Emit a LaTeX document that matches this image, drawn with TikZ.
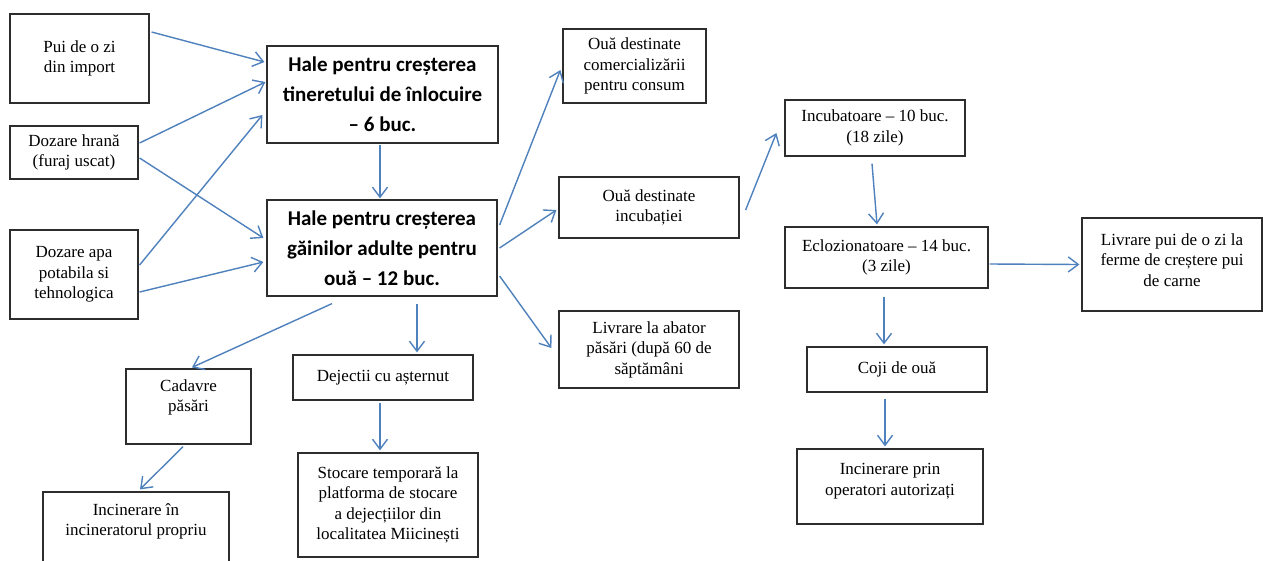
\documentclass[tikz,border=0pt]{standalone}
\usepackage{fontspec}
\setmainfont{Liberation Serif}
\newfontfamily\calibri{Carlito}
\usepackage{tikz}
\usetikzlibrary{arrows.meta, calc}
\definecolor{arrblue}{RGB}{79,129,189}
\definecolor{boxgray}{RGB}{45,45,45}
\newcommand{\lift}[1]{\rule[-#1]{0pt}{#1}}

\begin{document}
\begin{tikzpicture}[x=1pt,y=1pt]
	\tikzstyle{box}=[draw=boxgray,line width=1.2pt,fill=white,align=center,inner sep=0pt,font=\fontsize{17}{20.5}\selectfont]
	\tikzstyle{bigbox}=[box,font=\calibri\bfseries\fontsize{21}{30}\selectfont]
	\tikzstyle{arr}=[draw=arrblue,line width=1.4pt,-{Straight Barb[length=10pt,width=15pt]}]
	\fill[white] (0,0) rectangle (1263,-560);
	\useasboundingbox (0,0) rectangle (1263,-560);
	% inputs
	\node[box,minimum width=139,minimum height=89] (pui) at (79.5,-58.5) {Pui de o zi\\din import};
	\node[box,minimum width=128,minimum height=53] (hrana) at (74,-152.5) {Dozare hrană\\(furaj uscat)};
	\node[box,minimum width=128,minimum height=89] (apa) at (74,-274.5) {Dozare apa\\potabila si\\tehnologica};
	% halls
	\node[bigbox,minimum width=231,minimum height=97] (hale1) at (382.5,-94.5) {Hale pentru creșterea\\tineretului de înlocuire\\– 6 buc.};
	\node[bigbox,minimum width=230,minimum height=96] (hale2) at (382,-248) {Hale pentru creșterea\\găinilor adulte pentru\\ouă – 12 buc.};
	% products
	\node[box,minimum width=143,minimum height=74] (consum) at (634.5,-66) {Ouă destinate\\comercializării\\pentru consum};
	\node[box,minimum width=180,minimum height=61] (incub) at (649,-207.5) {Ouă destinate\\incubației};
	\node[box,minimum width=180,minimum height=77] (abator) at (649,-349.5) {Livrare la abator\\păsări (după 60 de\\săptămâni};
	\node[box,minimum width=180,minimum height=56] (incubatoare) at (875,-128) {Incubatoare – 10 buc.\\(18 zile)};
	\node[box,minimum width=203,minimum height=61] (ecloz) at (886.5,-257.5) {Eclozionatoare – 14 buc.\\(3 zile)};
	\node[box,minimum width=180,minimum height=93] (livpui) at (1172,-264.5) {Livrare pui de o zi la\\ferme de creștere pui\\de carne\lift{9pt}};
	\node[box,minimum width=180,minimum height=45] (coji) at (897,-369.5) {Coji de ouă};
	\node[box,minimum width=186,minimum height=75] (incprin) at (890,-486.5) {Incinerare prin\\operatori autorizați\lift{14pt}};
	% waste
	\node[box,minimum width=125,minimum height=75] (cadavre) at (188.5,-406.5) {Cadavre\\păsări\lift{22pt}};
	\node[box,minimum width=180,minimum height=45] (dejectii) at (383,-377.5) {Dejectii cu așternut};
	\node[box,minimum width=186,minimum height=83] (incprop) at (136,-533.5) {Incinerare în\\incineratorul propriu\lift{28pt}};
	\node[box,minimum width=180,minimum height=104] (stocare) at (388,-505) {Stocare temporară la\\platforma de stocare\\a dejecțiilor din\\localitatea Miicinești};
	% connectors
	\draw[arr] ($(pui.east)+(2,26.5)$) -- ($(hale1.west)+(-2,32.5)$);
	\draw[arr] ($(hrana.east)+(1,9.5)$) -- ($(hale1.west)+(-1,12.5)$);
	\draw[arr] ($(hrana.east)+(1,-5.5)$) -- ($(hale2.west)+(-3,10)$);
	\draw[arr] ($(apa.east)+(1,9.5)$) -- ($(hale1.west)+(-4,-20.5)$);
	\draw[arr] ($(apa.east)+(1,-17.5)$) -- ($(hale2.west)+(-3,-14)$);
	\draw[arr] ($(hale1.south)+(-2.5,-1)$) -- ($(hale2.north)+(-2,1)$);
	\draw[arr] ($(hale2.east)+(2,23)$) -- ($(consum.west)+(-2,-4)$);
	\draw[arr] ($(hale2.east)+(2,0)$) -- ($(incub.west)+(-2,-2.5)$);
	\draw[arr] ($(hale2.east)+(2,-28)$) -- ($(abator.west)+(-7,1.5)$);
	\draw[arr] ($(hale2.south)+(-50,-7)$) -- ($(cadavre.north)+(3.5,1)$);
	\draw[arr] ($(hale2.south)+(35,-7)$) -- ($(dejectii.north)+(34,2)$);
	\draw[arr] ($(cadavre.south)+(-5.5,-2)$) -- ($(incprop.north)+(4,2)$);
	\draw[arr] ($(dejectii.south)+(-3,-2)$) -- ($(stocare.north)+(-8,2)$);
	\draw[arr] ($(incub.east)+(6,-2.5)$) -- ($(incubatoare.west)+(-8,-5)$);
	\draw[arr] ($(incubatoare.south)+(-3,-7)$) -- ($(ecloz.north)+(-9.5,2)$);
	\draw[arr] ($(ecloz.south)+(-2.5,-8)$) -- ($(coji.north)+(-13,2)$);
	\draw[arr] ($(coji.south)+(-12,-6)$) -- ($(incprin.north)+(-5,2)$);
	\draw[arr] ($(ecloz.east)+(1,-6.5)$) -- ($(livpui.west)+(-2,0)$);
\end{tikzpicture}
\end{document}
